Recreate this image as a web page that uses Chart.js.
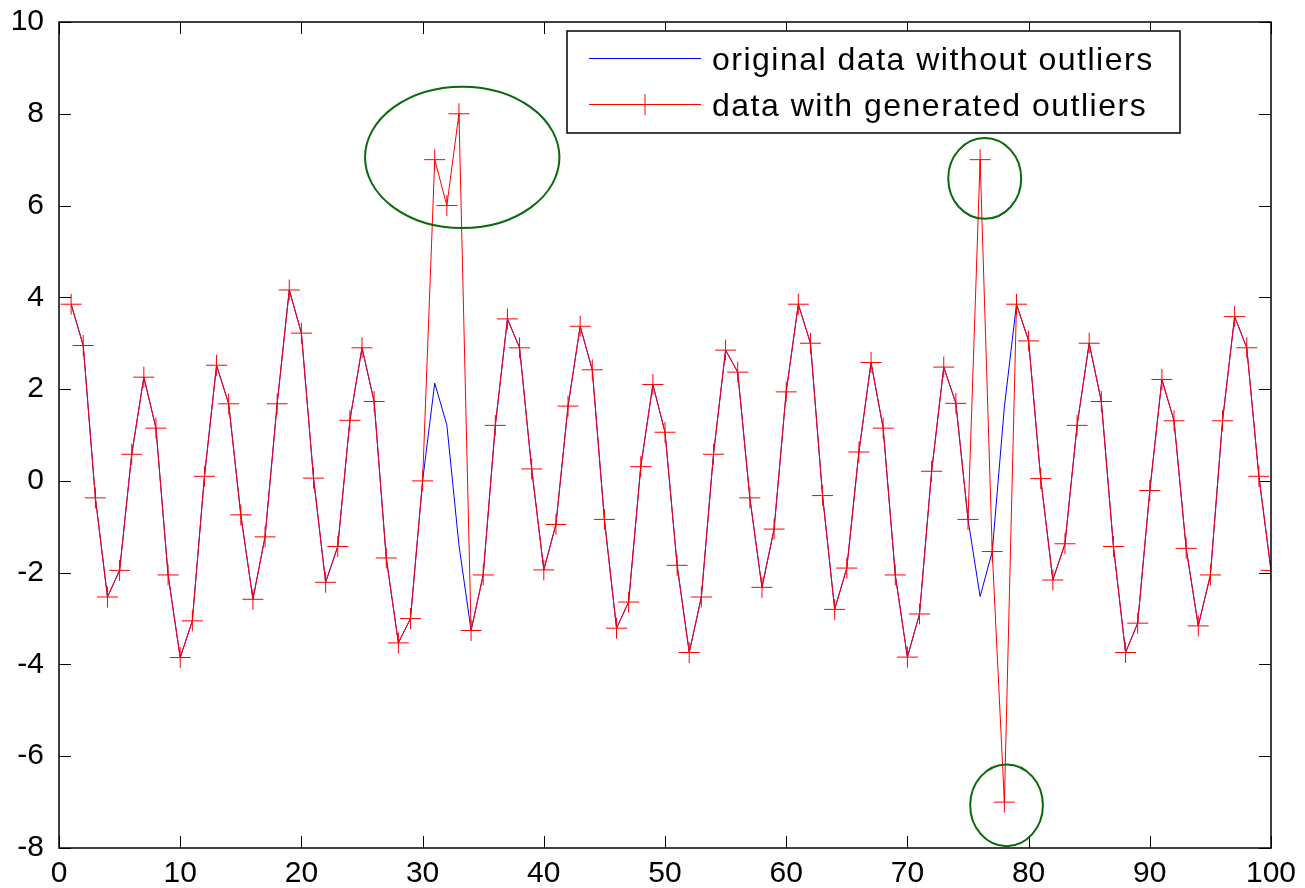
<!DOCTYPE html>
<html>
<head>
<meta charset="utf-8">
<script src="https://cdn.jsdelivr.net/npm/chart.js@4.4.1/dist/chart.umd.min.js"></script>
<style>
  html, body { margin: 0; padding: 0; background: #fff; }
  #wrap { width: 1305px; height: 888px; }
</style>
</head>
<body>
<div id="wrap"><canvas id="outlierChart"></canvas></div>
<script>
// sample index 1..100
const sampleIdx = Array.from({ length: 100 }, (_, i) => i + 1);

const originalData = [
  3.85, 2.95, -0.37, -2.53, -1.95, 0.58, 2.26, 1.15, -2.05, -3.85,
  -3.05, 0.10, 2.52, 1.68, -0.74, -2.58, -1.22, 1.68, 4.16, 3.22,
  0.06, -2.21, -1.43, 1.32, 2.90, 1.73, -1.68, -3.53, -3.00, 0.00,
  2.13, 1.22, -1.40, -3.26, -2.05, 1.21, 3.53, 2.90, 0.26, -1.94,
  -0.95, 1.63, 3.37, 2.42, -0.84, -3.21, -2.64, 0.31, 2.10, 1.06,
  -1.84, -3.74, -2.53, 0.58, 2.85, 2.37, -0.37, -2.32, -1.05, 1.94,
  3.85, 3.00, -0.32, -2.80, -1.90, 0.63, 2.58, 1.15, -2.05, -3.84,
  -2.90, 0.21, 2.48, 1.69, -0.84, -2.52, -1.54, 1.61, 3.85, 3.05,
  0.05, -2.16, -1.37, 1.21, 3.00, 1.73, -1.43, -3.74, -3.10, -0.21,
  2.21, 1.31, -1.47, -3.16, -2.05, 1.31, 3.58, 2.90, 0.10, -1.95
];

const outlierData = [
  3.85, 2.95, -0.37, -2.53, -1.95, 0.58, 2.26, 1.15, -2.05, -3.85,
  -3.05, 0.10, 2.52, 1.68, -0.74, -2.58, -1.22, 1.68, 4.16, 3.22,
  0.06, -2.21, -1.43, 1.32, 2.90, 1.73, -1.68, -3.53, -3.00, 0.00,
  7.00, 6.00, 8.00, -3.26, -2.05, 1.21, 3.53, 2.90, 0.26, -1.94,
  -0.95, 1.63, 3.37, 2.42, -0.84, -3.21, -2.64, 0.31, 2.10, 1.06,
  -1.84, -3.74, -2.53, 0.58, 2.85, 2.37, -0.37, -2.32, -1.05, 1.94,
  3.85, 3.00, -0.32, -2.80, -1.90, 0.63, 2.58, 1.15, -2.05, -3.84,
  -2.90, 0.21, 2.48, 1.69, -0.84, 7.00, -1.54, -7.00, 3.85, 3.05,
  0.05, -2.16, -1.37, 1.21, 3.00, 1.73, -1.43, -3.74, -3.10, -0.21,
  2.21, 1.31, -1.47, -3.16, -2.05, 1.31, 3.58, 2.90, 0.10, -1.95
];

const seriesNames = ['original data without outliers', 'data with generated outliers'];
const xTicks = [0, 10, 20, 30, 40, 50, 60, 70, 80, 90, 100];
const yTicks = [-8, -6, -4, -2, 0, 2, 4, 6, 8, 10];

// green rings around the outliers, in data units
const ringX = [33.27, 76.38, 78.18];
const ringY = [7.05, 6.59, -7.07];
const ringRx = [8.02, 3.01, 3.0];
const ringRy = [1.54, 0.88, 0.89];

const FONT = '"Liberation Sans", Arial, Helvetica, sans-serif';

const toPoints = (vals) => vals.map((v, i) => ({ x: sampleIdx[i], y: v }));

// box + inward ticks, like a matlab axes
const framePlugin = {
    id: 'frame',
    afterDatasetsDraw(chart) {
        const { ctx, chartArea: a, scales } = chart;
        ctx.save();
        ctx.strokeStyle = '#000';
        ctx.lineWidth = 1;
        const tl = 12;
        ctx.beginPath();
        xTicks.forEach(t => {
            const px = Math.round(scales.x.getPixelForValue(t)) + 0.5;
            ctx.moveTo(px, a.bottom); ctx.lineTo(px, a.bottom - tl);
            ctx.moveTo(px, a.top); ctx.lineTo(px, a.top + tl);
        });
        yTicks.forEach(t => {
            const py = Math.round(scales.y.getPixelForValue(t)) + 0.5;
            ctx.moveTo(a.left, py); ctx.lineTo(a.left + tl, py);
            ctx.moveTo(a.right, py); ctx.lineTo(a.right - tl, py);
        });
        ctx.stroke();
        ctx.lineWidth = 1.5;
        ctx.strokeRect(a.left, a.top, a.right - a.left, a.bottom - a.top);
        ctx.restore();
    }
};

const ringPlugin = {
    id: 'rings',
    afterDatasetsDraw(chart) {
        const { ctx, scales } = chart;
        ctx.save();
        ctx.strokeStyle = '#0a6a0a';
        ctx.lineWidth = 2;
        ringX.forEach((cx, i) => {
            const px = scales.x.getPixelForValue(cx);
            const py = scales.y.getPixelForValue(ringY[i]);
            const rx = scales.x.getPixelForValue(cx + ringRx[i]) - px;
            const ry = py - scales.y.getPixelForValue(ringY[i] + ringRy[i]);
            ctx.beginPath();
            ctx.ellipse(px, py, rx, ry, 0, 0, Math.PI * 2);
            ctx.stroke();
        });
        ctx.restore();
    }
};

const legendPlugin = {
    id: 'boxLegend',
    afterDraw(chart) {
        const { ctx, chartArea: a } = chart;
        const right = a.right - 91, top = a.top + 9;
        const left = right - 613, bottom = top + 102;
        ctx.save();
        ctx.fillStyle = '#fff';
        ctx.fillRect(left, top, right - left, bottom - top);
        ctx.strokeStyle = '#000';
        ctx.lineWidth = 1.5;
        ctx.strokeRect(left, top, right - left, bottom - top);

        const rows = [top + 27.5, top + 73.5];
        const colors = ['#0000ff', '#ff0000'];
        ctx.lineWidth = 1;
        rows.forEach((y, i) => {
            ctx.strokeStyle = colors[i];
            ctx.beginPath();
            ctx.moveTo(left + 22, y); ctx.lineTo(left + 134, y);
            if (i === 1) {
                const mx = left + 78;
                ctx.moveTo(mx - 10.5, y); ctx.lineTo(mx + 10.5, y);
                ctx.moveTo(mx, y - 10.5); ctx.lineTo(mx, y + 10.5);
            }
            ctx.stroke();
        });

        ctx.fillStyle = '#000';
        ctx.font = '32px ' + FONT;
        ctx.letterSpacing = '1.5px';
        ctx.textAlign = 'left';
        ctx.textBaseline = 'alphabetic';
        seriesNames.forEach((name, i) => {
            ctx.fillText(name, left + 145, rows[i] + 11.5);
        });
        ctx.restore();
    }
};

const ctx = document.getElementById('outlierChart').getContext('2d');

window.outlierChart = new Chart(ctx, {
    type: 'line',
    data: {
        datasets: [{
            label: seriesNames[0],
            data: toPoints(originalData),
            borderColor: '#0000ff',
            borderWidth: 1,
            pointRadius: 0,
            tension: 0,
            order: 1
        }, {
            label: seriesNames[1],
            data: toPoints(outlierData),
            borderColor: '#ff0000',
            borderWidth: 1,
            pointStyle: 'cross',
            pointRadius: 10.5,
            pointBorderColor: '#ff0000',
            pointBorderWidth: 1,
            tension: 0,
            order: 0
        }]
    },
    options: {
        responsive: true,
        maintainAspectRatio: false,
        animation: false,
        events: [],
        layout: {
            padding: { top: 22, right: 34, left: 0, bottom: 0 }
        },
        plugins: {
            legend: { display: false },
            tooltip: { enabled: false }
        },
        scales: {
            x: {
                type: 'linear',
                min: 0,
                max: 100,
                grid: { display: false, drawTicks: false },
                border: { display: false },
                afterFit: (s) => {
                    s.height = 40;
                    s.paddingLeft = 0;
                    s.paddingRight = 0;
                },
                afterBuildTicks: (s) => { s.ticks = xTicks.map(v => ({ value: v })); },
                ticks: {
                    color: '#000',
                    padding: 8,
                    maxRotation: 0,
                    font: { family: FONT, size: 30 }
                }
            },
            y: {
                type: 'linear',
                min: -8,
                max: 10,
                grid: { display: false, drawTicks: false },
                border: { display: false },
                afterFit: (s) => {
                    s.width = 59;
                    s.paddingTop = 0;
                    s.paddingBottom = 0;
                },
                afterBuildTicks: (s) => { s.ticks = yTicks.map(v => ({ value: v })); },
                ticks: {
                    color: '#000',
                    padding: 15,
                    font: { family: FONT, size: 30 }
                }
            }
        }
    },
    plugins: [framePlugin, ringPlugin, legendPlugin]
});
</script>
</body>
</html>
